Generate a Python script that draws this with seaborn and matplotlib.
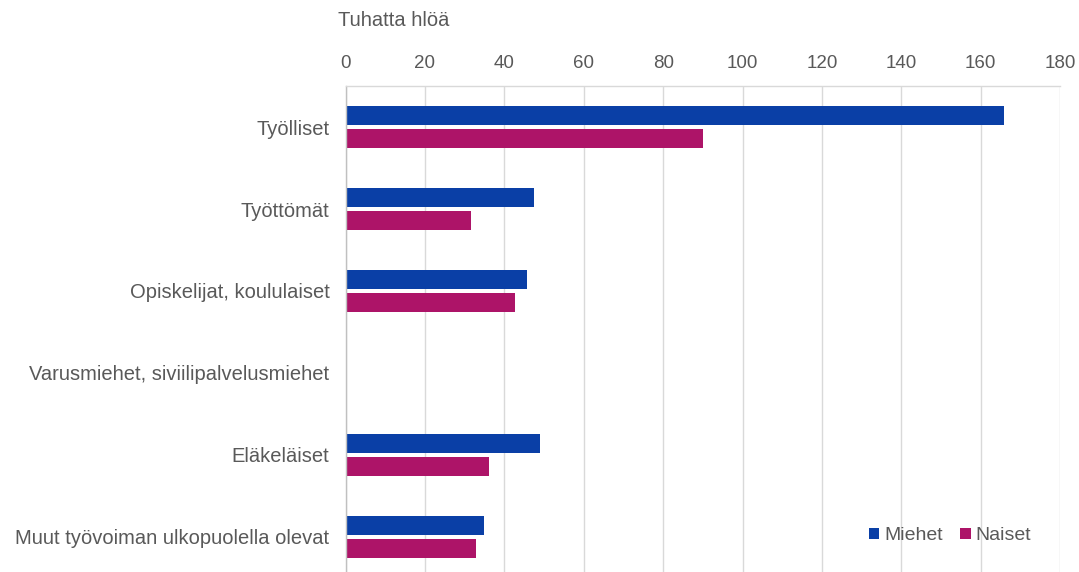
import matplotlib
matplotlib.use("Agg")
import matplotlib.pyplot as plt
import seaborn as sns
import pandas as pd
from matplotlib.patches import Patch

categories = ["Työlliset", "Työttömät", "Opiskelijat, koululaiset",
              "Varusmiehet, siviilipalvelusmiehet", "Eläkeläiset",
              "Muut työvoiman ulkopuolella olevat"]
miehet = [165.8, 47.4, 45.7, 0.0, 49.0, 35.0]
naiset = [90.1, 31.5, 42.7, 0.0, 36.2, 32.9]
series = ["Miehet", "Naiset"]
xticks = [0, 20, 40, 60, 80, 100, 120, 140, 160, 180]
xlabel = "Tuhatta hlöä"

colors = {"Miehet": "#0a3fa6", "Naiset": "#ad1468"}
txt = "#595959"

df = pd.DataFrame({
    "kategoria": categories * 2,
    "arvo": miehet + naiset,
    "sukupuoli": ["Miehet"] * len(categories) + ["Naiset"] * len(categories),
})

sns.set_theme(style="white")
plt.rcParams["font.family"] = ["Liberation Sans", "DejaVu Sans"]

fig = plt.figure(figsize=(10.79, 5.72), dpi=100)
W, H = 1079, 572
left, right, top, bottom = 345.5, 1060.2, 86, 578
ax = fig.add_axes([left / W, (H - bottom) / H, (right - left) / W, (bottom - top) / H])

sns.barplot(data=df, y="kategoria", x="arvo", hue="sukupuoli", order=categories,
            hue_order=series, palette=colors, orient="h", width=0.54,
            saturation=1, ax=ax, legend=False)

# shrink bars slightly to leave a small gap between the pair
bar_h = 19 / 82
for p in ax.patches:
    c = p.get_y() + p.get_height() / 2
    p.set_height(bar_h)
    p.set_y(c - bar_h / 2)
    p.set_linewidth(0)

ax.set_xlim(0, 180)
ax.set_ylim(5.5, -0.5)
ax.set_xticks(xticks)
ax.xaxis.tick_top()
ax.tick_params(axis="x", length=0, pad=10, labelsize=13.5, colors=txt)
ax.tick_params(axis="y", length=0, pad=11.5, labelsize=14.5, colors=txt)
ax.set_xlabel("")
ax.set_ylabel("")
ax.grid(axis="x", color="#d9d9d9", linewidth=1)
ax.set_axisbelow(True)
for s in ["right", "bottom"]:
    ax.spines[s].set_visible(False)
ax.spines["top"].set_color("#d9d9d9")
ax.spines["top"].set_linewidth(1)
ax.spines["left"].set_color("#c0c0c0")
ax.spines["left"].set_linewidth(1)

fig.text(338 / W, 1 - 21 / H, xlabel, ha="left", va="center", fontsize=14.5, color=txt)

handles = [Patch(facecolor=colors[s], edgecolor="none", label=s) for s in series]
leg = ax.legend(handles=handles, loc="center", bbox_to_anchor=((950 - left) / (right - left), (bottom - 536) / (bottom - top)),
                ncol=2, frameon=False, fontsize=14, handlelength=0.55, handleheight=0.55,
                handletextpad=0.25, columnspacing=0.9, labelcolor=txt)

fig.savefig("out.png", dpi=100, facecolor="white")
